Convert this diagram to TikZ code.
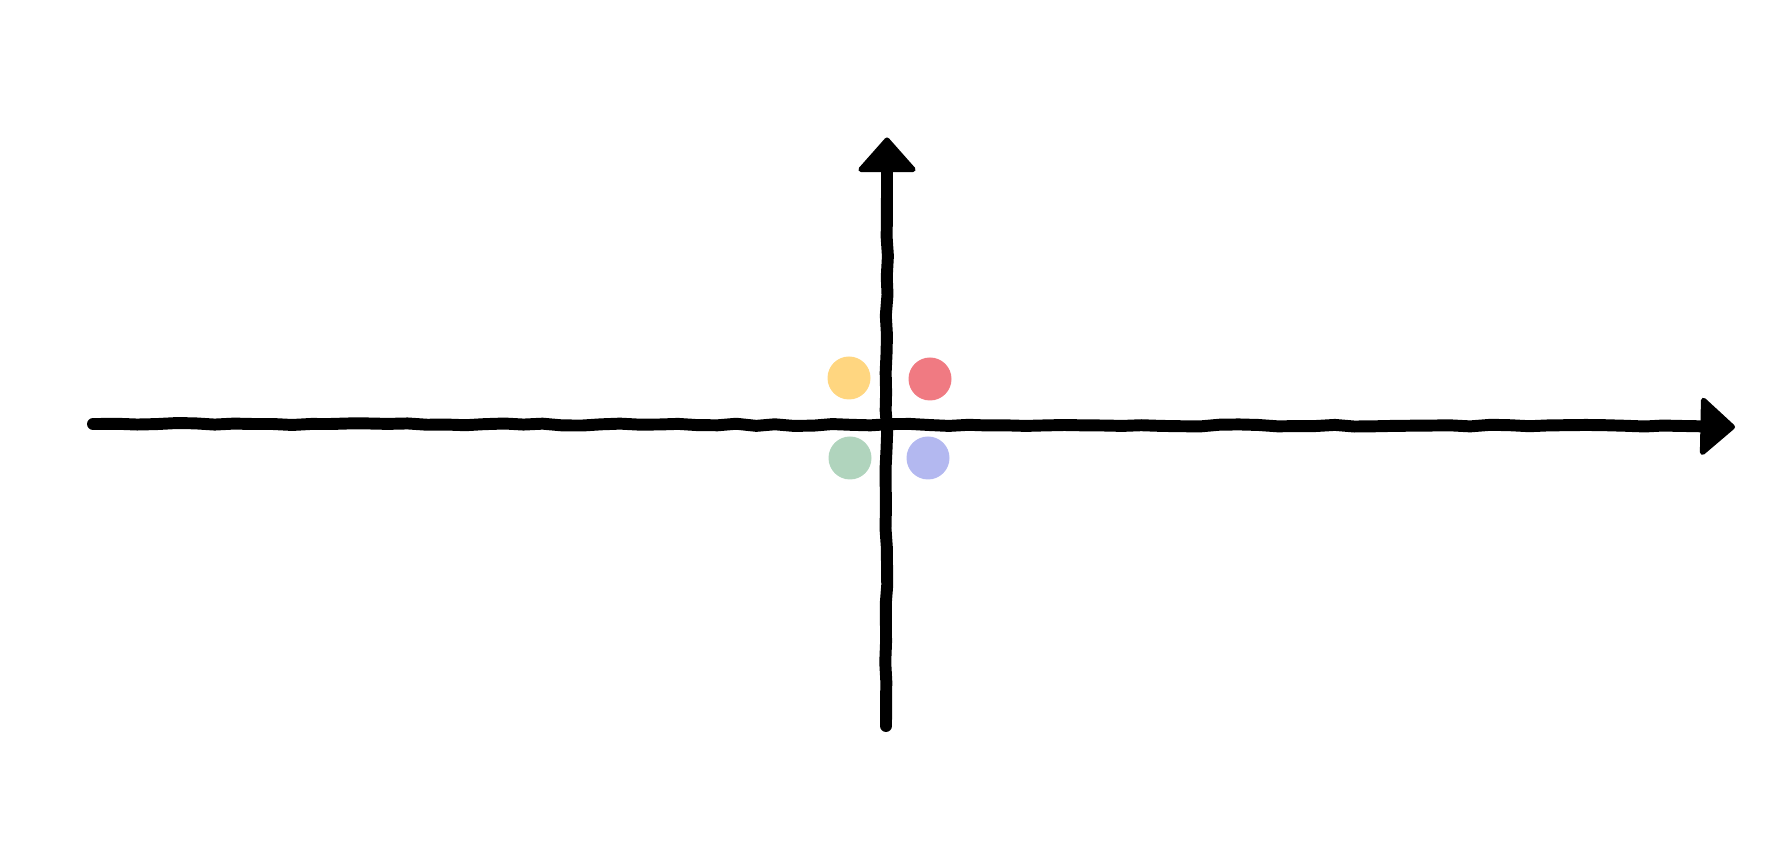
\documentclass[tikz,border=0pt]{standalone}
\usepackage{tikz}
\usetikzlibrary{arrows.meta, decorations.pathmorphing}
\definecolor{dotYellow}{HTML}{FFD680}
\definecolor{dotRed}{HTML}{F07A82}
\definecolor{dotGreen}{HTML}{B0D4BD}
\definecolor{dotBlue}{HTML}{B3B8F0}
\pgfmathsetseed{7}
\begin{document}
\begin{tikzpicture}[
  axis/.style={draw=black, line width=6.8pt, line cap=round, line join=round,
    decorate, decoration={random steps, segment length=11pt, amplitude=0.6pt,
      pre length=3pt, post length=3pt}},
  tip/.style={draw=black, line width=6.8pt,
    -{Triangle[length=0.72cm, width=1.25cm, line width=3pt, round, fill=black]}},
  dot/.style={circle, inner sep=0pt, minimum size=0.86cm},
]
  \useasboundingbox (0,0) rectangle (35.76,17.2);

  \coordinate (xl) at (1.86, 8.72);
  \coordinate (xa) at (33.70, 8.68);
  \coordinate (xr) at (34.70, 8.66);
  \coordinate (yb) at (17.72, 2.68);
  \coordinate (ya) at (17.74, 13.40);
  \coordinate (yt) at (17.74, 14.45);

  \node[dot, fill=dotYellow] (q2) at (16.98, 9.64) {};
  \node[dot, fill=dotRed]    (q1) at (18.60, 9.62) {};
  \node[dot, fill=dotGreen]  (q3) at (17.00, 8.04) {};
  \node[dot, fill=dotBlue]   (q4) at (18.56, 8.04) {};

  \draw[axis] (xl) -- (xa);
  \draw[tip] (xa) -- (xr);
  \draw[axis] (yb) -- (ya);
  \draw[tip] (ya) -- (yt);
\end{tikzpicture}
\end{document}
